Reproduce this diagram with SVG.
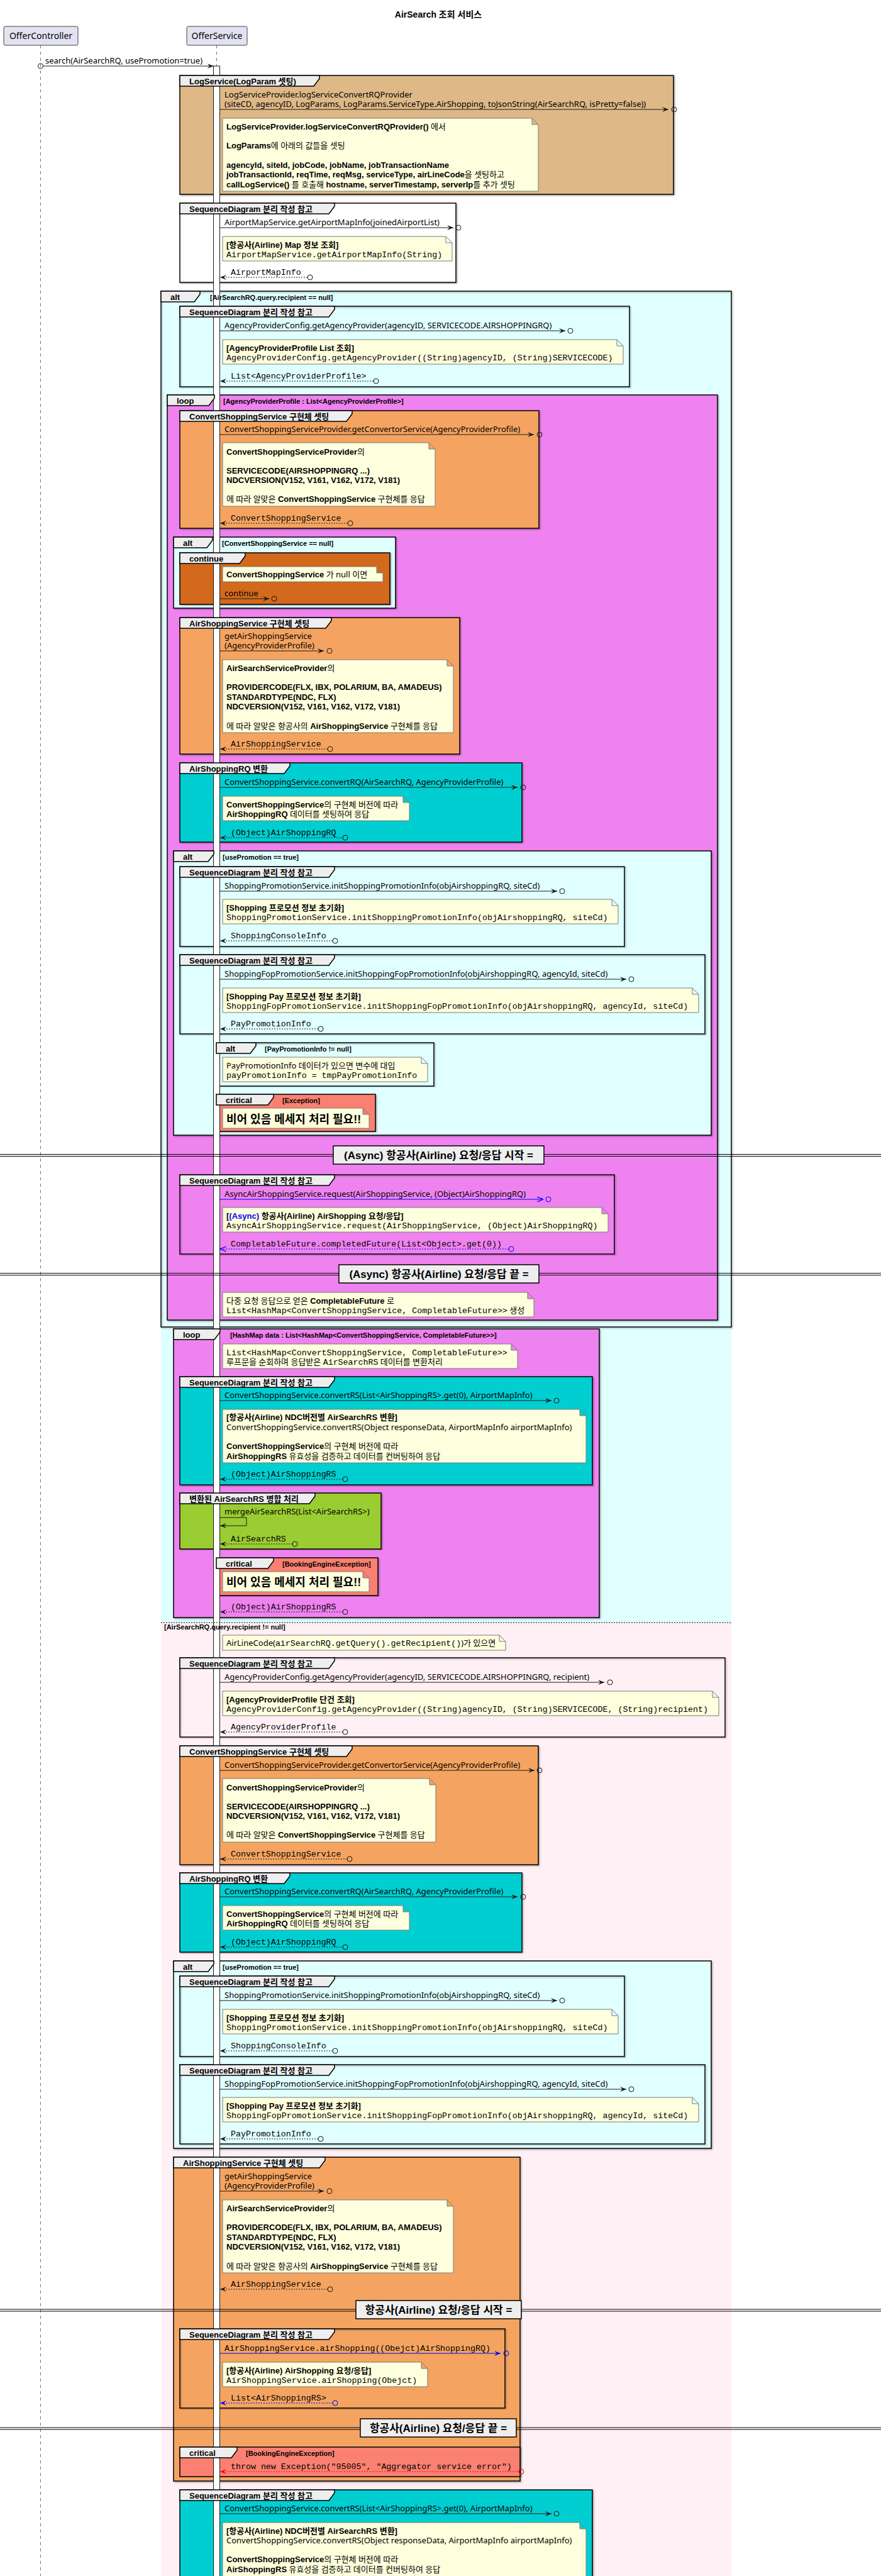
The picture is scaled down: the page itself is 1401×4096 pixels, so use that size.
<svg xmlns="http://www.w3.org/2000/svg" width="1401" height="4096" viewBox="0 0 1401 4096">
<style>
text{font-family:"Noto Sans","Noto Sans CJK KR",sans-serif;font-size:13px;fill:#000}
.b{font-family:"Liberation Sans","Noto Sans CJK KR",sans-serif;font-weight:bold}
.m{font-family:"Liberation Mono","Noto Sans CJK KR",monospace;font-size:13.3px}
.lbl{font-family:"Liberation Sans","Noto Sans CJK KR",sans-serif;font-weight:bold;font-size:13px}
.cond{font-family:"Liberation Sans","Noto Sans CJK KR",sans-serif;font-weight:bold;font-size:11px}
.big{font-family:"Liberation Sans","Noto Sans CJK KR",sans-serif;font-weight:bold;font-size:18px}
.dv{font-family:"Liberation Sans","Noto Sans CJK KR",sans-serif;font-weight:bold;font-size:17px;text-anchor:middle}
.ttl{font-family:"Liberation Sans","Noto Sans CJK KR",sans-serif;font-weight:bold;font-size:14px;text-anchor:middle}
.pt{font-size:14px;text-anchor:middle}
.fr{stroke:#000;stroke-width:1.5;filter:url(#sh)}
.tab{fill:#EEEEEE;stroke:#000;stroke-width:1.5}
.note{fill:#FEFFDD;stroke:#7A7A7A;stroke-width:1}
.msg{stroke:#181818;stroke-width:1;fill:none}
.ret{stroke:#181818;stroke-width:1;stroke-dasharray:2,2;fill:none}
.c{fill:none;stroke:#181818;stroke-width:1}
.blue{stroke:#0000FF}
.red{stroke:#FF0000}
.dl{stroke:#000;stroke-width:1}
.dbox{fill:#EEEEEE;stroke:#000;stroke-width:1.5}
.part{fill:#E2E2F0;stroke:#181818;stroke-width:0.8}
.life{stroke:#181818;stroke-width:0.6;stroke-dasharray:5,5}
</style>
<defs>
<filter id="sh" x="-2%" y="-2%" width="104%" height="104%"><feDropShadow dx="1.5" dy="1.5" stdDeviation="0.8" flood-color="#000" flood-opacity="0.35"/></filter>
<marker id="a" viewBox="0 0 10 8" refX="10" refY="4" markerWidth="10" markerHeight="8" markerUnits="userSpaceOnUse" orient="auto"><path d="M0,0 L10,4 L0,8 L4,4 Z" fill="#181818"/></marker>
<marker id="ab" viewBox="0 0 10 8" refX="10" refY="4" markerWidth="10" markerHeight="8" markerUnits="userSpaceOnUse" orient="auto"><path d="M0,0 L10,4 L0,8" fill="none" stroke="#0000FF" stroke-width="1.2"/></marker>
<marker id="abf" viewBox="0 0 10 8" refX="10" refY="4" markerWidth="10" markerHeight="8" markerUnits="userSpaceOnUse" orient="auto"><path d="M0,0 L10,4 L0,8 L4,4 Z" fill="#0000FF"/></marker>
<marker id="ar" viewBox="0 0 10 8" refX="10" refY="4" markerWidth="10" markerHeight="8" markerUnits="userSpaceOnUse" orient="auto"><path d="M0,0 L10,4 L0,8 L4,4 Z" fill="#FF0000"/></marker>
</defs>
<rect x="0" y="0" width="1401" height="4096" fill="#FFFFFF"/>
<text class="ttl" x="697" y="28">AirSearch 조회 서비스</text>
<g id="lifelines">
<line class="life" x1="64.5" y1="72" x2="64.5" y2="4096"/>
<line class="life" x1="344.5" y1="72" x2="344.5" y2="105"/>
</g>
<g id="OfferController"><rect class="part" x="6" y="42" width="118" height="30" rx="2.5"/><text class="pt" x="65" y="62">OfferController</text></g>
<g id="OfferService"><rect class="part" x="297" y="42" width="96" height="30" rx="2.5"/><text class="pt" x="345" y="62">OfferService</text></g>
<g id="frames">
<g id="f-log"><rect class="fr" x="286" y="120" width="785" height="189" fill="#DEB887"/></g>
<g id="f-sd1"><rect class="fr" x="286" y="323" width="439" height="126" fill="#FFFFFF"/></g>
<g id="f-alt"><rect x="256" y="463" width="907" height="2117" fill="#E0FFFF"/><rect x="256" y="2580" width="907" height="1530" fill="#FFF0F5"/><rect class="fr" x="256" y="463" width="907" height="1647" fill="none"/></g>
<g id="f-sd2"><rect class="fr" x="286" y="487" width="715" height="128" fill="none"/></g>
<g id="f-loop1"><rect class="fr" x="266" y="628" width="875" height="1471" fill="#EE82EE"/></g>
<g id="f-css1"><rect class="fr" x="286" y="653" width="571" height="187" fill="#F4A460"/></g>
<g id="f-alt2"><rect class="fr" x="276" y="854" width="353" height="113" fill="#E0FFFF"/></g>
<g id="f-cont"><rect class="fr" x="286" y="879" width="334" height="82" fill="#D2691E"/></g>
<g id="f-ass1"><rect class="fr" x="286" y="982" width="445" height="217" fill="#F4A460"/></g>
<g id="f-rq1"><rect class="fr" x="286" y="1213" width="544" height="126" fill="#00CED1"/></g>
<g id="f-alt3"><rect class="fr" x="276" y="1353" width="855" height="452" fill="#E0FFFF"/></g>
<g id="f-sd3"><rect class="fr" x="286" y="1378" width="707" height="127" fill="none"/></g>
<g id="f-sd4"><rect class="fr" x="286" y="1518" width="835" height="126" fill="none"/></g>
<g id="f-alt4"><rect class="fr" x="344" y="1658" width="346" height="69" fill="none"/></g>
<g id="f-crit1"><rect class="fr" x="344" y="1740" width="253" height="59" fill="#FA8072"/></g>
<g id="f-sd5"><rect class="fr" x="286" y="1868" width="691" height="126" fill="none"/></g>
<g id="f-loop2"><rect class="fr" x="276" y="2113" width="677" height="459" fill="#EE82EE"/></g>
<g id="f-sd6"><rect class="fr" x="286" y="2189" width="656" height="172" fill="#00CED1"/></g>
<g id="f-merge"><rect class="fr" x="286" y="2374" width="320" height="89" fill="#9ACD32"/></g>
<g id="f-crit2"><rect class="fr" x="344" y="2477" width="257" height="60" fill="#FA8072"/></g>
<g id="f-sd7"><rect class="fr" x="286" y="2636" width="867" height="126" fill="none"/></g>
<g id="f-css2"><rect class="fr" x="286" y="2776" width="570" height="189" fill="#F4A460"/></g>
<g id="f-rq2"><rect class="fr" x="286" y="2978" width="544" height="126" fill="#00CED1"/></g>
<g id="f-alt5"><rect class="fr" x="276" y="3118" width="855" height="298" fill="#E0FFFF"/></g>
<g id="f-sd8"><rect class="fr" x="286" y="3142" width="707" height="128" fill="none"/></g>
<g id="f-sd9"><rect class="fr" x="286" y="3283" width="835" height="126" fill="none"/></g>
<g id="f-ass2"><rect class="fr" x="276" y="3430" width="551" height="515" fill="#F4A460"/></g>
<g id="f-sd10"><rect class="fr" x="286" y="3703" width="517" height="126" fill="none"/></g>
<g id="f-crit3"><rect class="fr" x="286" y="3891" width="541" height="47" fill="#FA8072"/></g>
<g id="f-sd11"><rect class="fr" x="286" y="3959" width="656" height="151" fill="#00CED1"/></g>
</g>
<g id="activation"><rect x="339.5" y="105" width="10" height="4000" fill="#FFFFFF" stroke="#181818" stroke-width="1"/></g>
<g id="frame-labels">
<g id="f-log-tab"><path class="tab" d="M286,120 H508 V125 L499,137 H286 Z"/><text class="lbl" x="301" y="133.5">LogService(LogParam 셋팅)</text></g>
<g id="f-sd1-tab"><path class="tab" d="M286,323 H532 V328 L523,340 H286 Z"/><text class="lbl" x="301" y="336.5">SequenceDiagram 분리 작성 참고</text></g>
<g id="f-alt-tab"><path class="tab" d="M256,463 H318 V468 L309,480 H256 Z"/><text class="lbl" x="271" y="476.5">alt</text><text class="cond" x="334" y="477">[AirSearchRQ.query.recipient == null]</text><line x1="256" y1="2580" x2="1163" y2="2580" stroke="#000" stroke-width="1" stroke-dasharray="2,2"/><text class="cond" x="261" y="2591">[AirSearchRQ.query.recipient != null]</text></g>
<g id="f-sd2-tab"><path class="tab" d="M286,487 H532 V492 L523,504 H286 Z"/><text class="lbl" x="301" y="500.5">SequenceDiagram 분리 작성 참고</text></g>
<g id="f-loop1-tab"><path class="tab" d="M266,628 H341 V633 L332,645 H266 Z"/><text class="lbl" x="281" y="641.5">loop</text><text class="cond" x="355" y="642">[AgencyProviderProfile : List&lt;AgencyProviderProfile&gt;]</text></g>
<g id="f-css1-tab"><path class="tab" d="M286,653 H560 V658 L551,670 H286 Z"/><text class="lbl" x="301" y="666.5">ConvertShoppingService 구현체 셋팅</text></g>
<g id="f-alt2-tab"><path class="tab" d="M276,854 H338 V859 L329,871 H276 Z"/><text class="lbl" x="291" y="867.5">alt</text><text class="cond" x="353" y="868">[ConvertShoppingService == null]</text></g>
<g id="f-cont-tab"><path class="tab" d="M286,879 H390 V884 L381,896 H286 Z"/><text class="lbl" x="301" y="892.5">continue</text></g>
<g id="f-ass1-tab"><path class="tab" d="M286,982 H527 V987 L518,999 H286 Z"/><text class="lbl" x="301" y="995.5">AirShoppingService 구현체 셋팅</text></g>
<g id="f-rq1-tab"><path class="tab" d="M286,1213 H461 V1218 L452,1230 H286 Z"/><text class="lbl" x="301" y="1226.5">AirShoppingRQ 변환</text></g>
<g id="f-alt3-tab"><path class="tab" d="M276,1353 H340 V1358 L331,1370 H276 Z"/><text class="lbl" x="291" y="1366.5">alt</text><text class="cond" x="354" y="1367">[usePromotion == true]</text></g>
<g id="f-sd3-tab"><path class="tab" d="M286,1378 H532 V1383 L523,1395 H286 Z"/><text class="lbl" x="301" y="1391.5">SequenceDiagram 분리 작성 참고</text></g>
<g id="f-sd4-tab"><path class="tab" d="M286,1518 H532 V1523 L523,1535 H286 Z"/><text class="lbl" x="301" y="1531.5">SequenceDiagram 분리 작성 참고</text></g>
<g id="f-alt4-tab"><path class="tab" d="M344,1658 H407 V1663 L398,1675 H344 Z"/><text class="lbl" x="359" y="1671.5">alt</text><text class="cond" x="421" y="1672">[PayPromotionInfo != null]</text></g>
<g id="f-crit1-tab"><path class="tab" d="M344,1740 H435 V1745 L426,1757 H344 Z"/><text class="lbl" x="359" y="1753.5">critical</text><text class="cond" x="449" y="1754">[Exception]</text></g>
<g id="f-sd5-tab"><path class="tab" d="M286,1868 H532 V1873 L523,1885 H286 Z"/><text class="lbl" x="301" y="1881.5">SequenceDiagram 분리 작성 참고</text></g>
<g id="f-loop2-tab"><path class="tab" d="M276,2113 H350 V2118 L341,2130 H276 Z"/><text class="lbl" x="291" y="2126.5">loop</text><text class="cond" x="366" y="2127">[HashMap data : List&lt;HashMap&lt;ConvertShoppingService, CompletableFuture&gt;&gt;]</text></g>
<g id="f-sd6-tab"><path class="tab" d="M286,2189 H532 V2194 L523,2206 H286 Z"/><text class="lbl" x="301" y="2202.5">SequenceDiagram 분리 작성 참고</text></g>
<g id="f-merge-tab"><path class="tab" d="M286,2374 H501 V2379 L492,2391 H286 Z"/><text class="lbl" x="301" y="2387.5">변환된 AirSearchRS 병합 처리</text></g>
<g id="f-crit2-tab"><path class="tab" d="M344,2477 H435 V2482 L426,2494 H344 Z"/><text class="lbl" x="359" y="2490.5">critical</text><text class="cond" x="449" y="2491">[BookingEngineException]</text></g>
<g id="f-sd7-tab"><path class="tab" d="M286,2636 H532 V2641 L523,2653 H286 Z"/><text class="lbl" x="301" y="2649.5">SequenceDiagram 분리 작성 참고</text></g>
<g id="f-css2-tab"><path class="tab" d="M286,2776 H560 V2781 L551,2793 H286 Z"/><text class="lbl" x="301" y="2789.5">ConvertShoppingService 구현체 셋팅</text></g>
<g id="f-rq2-tab"><path class="tab" d="M286,2978 H461 V2983 L452,2995 H286 Z"/><text class="lbl" x="301" y="2991.5">AirShoppingRQ 변환</text></g>
<g id="f-alt5-tab"><path class="tab" d="M276,3118 H340 V3123 L331,3135 H276 Z"/><text class="lbl" x="291" y="3131.5">alt</text><text class="cond" x="354" y="3132">[usePromotion == true]</text></g>
<g id="f-sd8-tab"><path class="tab" d="M286,3142 H532 V3147 L523,3159 H286 Z"/><text class="lbl" x="301" y="3155.5">SequenceDiagram 분리 작성 참고</text></g>
<g id="f-sd9-tab"><path class="tab" d="M286,3283 H532 V3288 L523,3300 H286 Z"/><text class="lbl" x="301" y="3296.5">SequenceDiagram 분리 작성 참고</text></g>
<g id="f-ass2-tab"><path class="tab" d="M276,3430 H517 V3435 L508,3447 H276 Z"/><text class="lbl" x="291" y="3443.5">AirShoppingService 구현체 셋팅</text></g>
<g id="f-sd10-tab"><path class="tab" d="M286,3703 H532 V3708 L523,3720 H286 Z"/><text class="lbl" x="301" y="3716.5">SequenceDiagram 분리 작성 참고</text></g>
<g id="f-crit3-tab"><path class="tab" d="M286,3891 H377 V3896 L368,3908 H286 Z"/><text class="lbl" x="301" y="3904.5">critical</text><text class="cond" x="391" y="3905">[BookingEngineException]</text></g>
<g id="f-sd11-tab"><path class="tab" d="M286,3959 H532 V3964 L523,3976 H286 Z"/><text class="lbl" x="301" y="3972.5">SequenceDiagram 분리 작성 참고</text></g>
</g>
<g id="dividers">
<g id="div1"><line class="dl" x1="0" y1="1835.5" x2="1401" y2="1835.5"/><line class="dl" x1="0" y1="1838.5" x2="1401" y2="1838.5"/><rect class="dbox" x="530" y="1822" width="335" height="29"/><text class="dv" x="697.5" y="1843">(Async) 항공사(Airline) 요청/응답 시작 =</text></g>
<g id="div2"><line class="dl" x1="0" y1="2024.5" x2="1401" y2="2024.5"/><line class="dl" x1="0" y1="2027.5" x2="1401" y2="2027.5"/><rect class="dbox" x="539" y="2011" width="318" height="29"/><text class="dv" x="698" y="2032">(Async) 항공사(Airline) 요청/응답 끝 =</text></g>
<g id="div3"><line class="dl" x1="0" y1="3672" x2="1401" y2="3672"/><line class="dl" x1="0" y1="3675" x2="1401" y2="3675"/><rect class="dbox" x="566" y="3658" width="263" height="29"/><text class="dv" x="697.5" y="3679">항공사(Airline) 요청/응답 시작 =</text></g>
<g id="div4"><line class="dl" x1="0" y1="3860" x2="1401" y2="3860"/><line class="dl" x1="0" y1="3863" x2="1401" y2="3863"/><rect class="dbox" x="573" y="3846" width="248" height="29"/><text class="dv" x="697" y="3867">항공사(Airline) 요청/응답 끝 =</text></g>
</g>
<g id="notes">
<g id="n1"><path class="note" d="M354,188 H846 L856,198 V304 H354 Z M846,188 V198 H856"/>
<text x="360" y="206"><tspan class="b">LogServiceProvider.logServiceConvertRQProvider()</tspan> 에서</text>
<text x="360" y="236"><tspan class="b">LogParams</tspan>에 아래의 값들을 셋팅</text>
<text class="b" x="360" y="267">agencyId, siteId, jobCode, jobName, jobTransactionName</text>
<text x="360" y="282"><tspan class="b">jobTransactionId, reqTime, reqMsg, serviceType, airLineCode</tspan>을 셋팅하고</text>
<text x="360" y="298"><tspan class="b">callLogService()</tspan> 를 호출해 <tspan class="b">hostname, serverTimestamp, serverIp</tspan>를 추가 셋팅</text></g>
<g id="n2"><path class="note" d="M354,376 H709 L719,386 V415 H354 Z M709,376 V386 H719"/>
<text class="b" x="360" y="394">[항공사(Airline) Map 정보 조회]</text>
<text class="m" x="360" y="409">AirportMapService.getAirportMapInfo(String)</text></g>
<g id="n3"><path class="note" d="M354,540 H981 L991,550 V579 H354 Z M981,540 V550 H991"/>
<text class="b" x="360" y="558">[AgencyProviderProfile List 조회]</text>
<text class="m" x="360" y="573">AgencyProviderConfig.getAgencyProvider((String)agencyID, (String)SERVICECODE)</text></g>
<g id="n4"><path class="note" d="M354,704 H682 L692,714 V805 H354 Z M682,704 V714 H692"/>
<text x="360" y="723"><tspan class="b">ConvertShoppingServiceProvider</tspan>의</text>
<text class="b" x="360" y="753">SERVICECODE(AIRSHOPPINGRQ ...)</text>
<text class="b" x="360" y="768">NDCVERSION(V152, V161, V162, V172, V181)</text>
<text x="360" y="798">에 따라 알맞은 <tspan class="b">ConvertShoppingService</tspan> 구현체를 응답</text></g>
<g id="n5"><path class="note" d="M354,901 H599 L609,911 V925 H354 Z M599,901 V911 H609"/>
<text x="360" y="918"><tspan class="b">ConvertShoppingService</tspan> 가 null 이면</text></g>
<g id="n6"><path class="note" d="M354,1049 H711 L721,1059 V1165 H354 Z M711,1049 V1059 H721"/>
<text x="360" y="1067"><tspan class="b">AirSearchServiceProvider</tspan>의</text>
<text class="b" x="360" y="1097">PROVIDERCODE(FLX, IBX, POLARIUM, BA, AMADEUS)</text>
<text class="b" x="360" y="1113">STANDARDTYPE(NDC, FLX)</text>
<text class="b" x="360" y="1128">NDCVERSION(V152, V161, V162, V172, V181)</text>
<text x="360" y="1159">에 따라 알맞은 항공사의 <tspan class="b">AirShoppingService</tspan> 구현체를 응답</text></g>
<g id="n7"><path class="note" d="M354,1266 H641 L651,1276 V1305 H354 Z M641,1266 V1276 H651"/>
<text x="360" y="1284"><tspan class="b">ConvertShoppingService</tspan>의 구현체 버전에 따라</text>
<text x="360" y="1299"><tspan class="b">AirShoppingRQ</tspan> 데이터를 셋팅하여 응답</text></g>
<g id="n8"><path class="note" d="M354,1430 H973 L983,1440 V1469 H354 Z M973,1430 V1440 H983"/>
<text class="b" x="360" y="1448">[Shopping 프로모션 정보 초기화]</text>
<text class="m" x="360" y="1463">ShoppingPromotionService.initShoppingPromotionInfo(objAirshoppingRQ, siteCd)</text></g>
<g id="n9"><path class="note" d="M354,1571 H1101 L1111,1581 V1610 H354 Z M1101,1571 V1581 H1111"/>
<text class="b" x="360" y="1589">[Shopping Pay 프로모션 정보 초기화]</text>
<text class="m" x="360" y="1604">ShoppingFopPromotionService.initShoppingFopPromotionInfo(objAirshoppingRQ, agencyId, siteCd)</text></g>
<g id="n10"><path class="note" d="M354,1681 H670 L680,1691 V1720 H354 Z M670,1681 V1691 H680"/>
<text x="360" y="1699">PayPromotionInfo 데이터가 있으면 변수에 대입</text>
<text class="m" x="360" y="1714">payPromotionInfo = tmpPayPromotionInfo</text></g>
<g id="n11"><path class="note" d="M354,1762 H577 L587,1772 V1794 H354 Z M577,1762 V1772 H587"/>
<text class="big" x="360" y="1786">비어 있음 메세지 처리 필요!!</text></g>
<g id="n12"><path class="note" d="M354,1920 H957 L967,1930 V1959 H354 Z M957,1920 V1930 H967"/>
<text class="b" x="360" y="1938">[<tspan fill="#0000FF">(Async)</tspan> 항공사(Airline) AirShopping 요청/응답]</text>
<text class="m" x="360" y="1953">AsyncAirShoppingService.request(AirShoppingService, (Object)AirShoppingRQ)</text></g>
<g id="n13"><path class="note" d="M354,2055 H839 L849,2065 V2094 H354 Z M839,2055 V2065 H849"/>
<text x="360" y="2073">다중 요청 응답으로 얻은 <tspan class="b">CompletableFuture</tspan> 로</text>
<text x="360" y="2088"><tspan class="m">List&lt;HashMap&lt;ConvertShoppingService, CompletableFuture&gt;&gt;</tspan> 생성</text></g>
<g id="n14"><path class="note" d="M354,2137 H813 L823,2147 V2176 H354 Z M813,2137 V2147 H823"/>
<text class="m" x="360" y="2155">List&lt;HashMap&lt;ConvertShoppingService, CompletableFuture&gt;&gt;</text>
<text x="360" y="2170">루프문을 순회하며 응답받은 <tspan class="m">AirSearchRS</tspan> 데이터를 변환처리</text></g>
<g id="n15"><path class="note" d="M354,2241 H922 L932,2251 V2326 H354 Z M922,2241 V2251 H932"/>
<text class="b" x="360" y="2258">[항공사(Airline) NDC버전별 AirSearchRS 변환]</text>
<text x="360" y="2274">ConvertShoppingService.convertRS(Object responseData, AirportMapInfo airportMapInfo)</text>
<text x="360" y="2304"><tspan class="b">ConvertShoppingService</tspan>의 구현체 버전에 따라</text>
<text x="360" y="2320"><tspan class="b">AirShoppingRS</tspan> 유효성을 검증하고 데이터를 컨버팅하여 응답</text></g>
<g id="n16"><path class="note" d="M354,2499 H577 L587,2509 V2531 H354 Z M577,2499 V2509 H587"/>
<text class="big" x="360" y="2522">비어 있음 메세지 처리 필요!!</text></g>
<g id="n17"><path class="note" d="M354,2600 H794 L804,2610 V2624 H354 Z M794,2600 V2610 H804"/>
<text x="360" y="2617">AirLineCode(<tspan class="m">airSearchRQ.getQuery().getRecipient()</tspan>)가 있으면</text></g>
<g id="n18"><path class="note" d="M354,2689 H1133 L1143,2699 V2728 H354 Z M1133,2689 V2699 H1143"/>
<text class="b" x="360" y="2707">[AgencyProviderProfile 단건 조회]</text>
<text class="m" x="360" y="2722">AgencyProviderConfig.getAgencyProvider((String)agencyID, (String)SERVICECODE, (String)recipient)</text></g>
<g id="n19"><path class="note" d="M354,2828 H683 L693,2838 V2929 H354 Z M683,2828 V2838 H693"/>
<text x="360" y="2847"><tspan class="b">ConvertShoppingServiceProvider</tspan>의</text>
<text class="b" x="360" y="2877">SERVICECODE(AIRSHOPPINGRQ ...)</text>
<text class="b" x="360" y="2892">NDCVERSION(V152, V161, V162, V172, V181)</text>
<text x="360" y="2922">에 따라 알맞은 <tspan class="b">ConvertShoppingService</tspan> 구현체를 응답</text></g>
<g id="n20"><path class="note" d="M354,3030 H641 L651,3040 V3069 H354 Z M641,3030 V3040 H651"/>
<text x="360" y="3048"><tspan class="b">ConvertShoppingService</tspan>의 구현체 버전에 따라</text>
<text x="360" y="3063"><tspan class="b">AirShoppingRQ</tspan> 데이터를 셋팅하여 응답</text></g>
<g id="n21"><path class="note" d="M354,3195 H973 L983,3205 V3234 H354 Z M973,3195 V3205 H983"/>
<text class="b" x="360" y="3213">[Shopping 프로모션 정보 초기화]</text>
<text class="m" x="360" y="3228">ShoppingPromotionService.initShoppingPromotionInfo(objAirshoppingRQ, siteCd)</text></g>
<g id="n22"><path class="note" d="M354,3335 H1101 L1111,3345 V3374 H354 Z M1101,3335 V3345 H1111"/>
<text class="b" x="360" y="3353">[Shopping Pay 프로모션 정보 초기화]</text>
<text class="m" x="360" y="3368">ShoppingFopPromotionService.initShoppingFopPromotionInfo(objAirshoppingRQ, agencyId, siteCd)</text></g>
<g id="n23"><path class="note" d="M354,3498 H711 L721,3508 V3614 H354 Z M711,3498 V3508 H721"/>
<text x="360" y="3516"><tspan class="b">AirSearchServiceProvider</tspan>의</text>
<text class="b" x="360" y="3546">PROVIDERCODE(FLX, IBX, POLARIUM, BA, AMADEUS)</text>
<text class="b" x="360" y="3562">STANDARDTYPE(NDC, FLX)</text>
<text class="b" x="360" y="3577">NDCVERSION(V152, V161, V162, V172, V181)</text>
<text x="360" y="3608">에 따라 알맞은 항공사의 <tspan class="b">AirShoppingService</tspan> 구현체를 응답</text></g>
<g id="n24"><path class="note" d="M354,3756 H670 L680,3766 V3795 H354 Z M670,3756 V3766 H680"/>
<text class="b" x="360" y="3774">[항공사(Airline) AirShopping 요청/응답]</text>
<text class="m" x="360" y="3789">AirShoppingService.airShopping(Obejct)</text></g>
<g id="n25"><path class="note" d="M354,4011 H922 L932,4021 V4100 H354 Z M922,4011 V4021 H932"/>
<text class="b" x="360" y="4029">[항공사(Airline) NDC버전별 AirSearchRS 변환]</text>
<text x="360" y="4044">ConvertShoppingService.convertRS(Object responseData, AirportMapInfo airportMapInfo)</text>
<text x="360" y="4074"><tspan class="b">ConvertShoppingService</tspan>의 구현체 버전에 따라</text>
<text x="360" y="4090"><tspan class="b">AirShoppingRS</tspan> 유효성을 검증하고 데이터를 컨버팅하여 응답</text></g>
</g>
<g id="connectors">
<text x="72" y="101">search(AirSearchRQ, usePromotion=true)</text><circle class="c" cx="64.5" cy="105" r="4"/><line class="msg" x1="68.5" y1="105" x2="339.5" y2="105" marker-end="url(#a)"/>
<text x="357" y="155">LogServiceProvider.logServiceConvertRQProvider</text><text x="357" y="170">(siteCD, agencyID, LogParams, LogParams.ServiceType.AirShopping, toJsonString(AirSearchRQ, isPretty=false))</text><line class="msg" x1="349.5" y1="174" x2="1063" y2="174" marker-end="url(#a)"/><circle class="c" cx="1072" cy="174" r="4"/>
<text x="357" y="358">AirportMapService.getAirportMapInfo(joinedAirportList)</text><line class="msg" x1="349.5" y1="362" x2="721" y2="362" marker-end="url(#a)"/><circle class="c" cx="729" cy="362" r="4"/>
<text class="m" x="367" y="437">AirportMapInfo</text><circle class="c" cx="493" cy="441" r="4"/><line class="ret" x1="489" y1="441" x2="350" y2="441" marker-end="url(#a)"/>
<text x="357" y="522">AgencyProviderConfig.getAgencyProvider(agencyID, SERVICECODE.AIRSHOPPINGRQ)</text><line class="msg" x1="349.5" y1="526" x2="899" y2="526" marker-end="url(#a)"/><circle class="c" cx="907" cy="526" r="4"/>
<text class="m" x="367" y="602">List&lt;AgencyProviderProfile&gt;</text><circle class="c" cx="598" cy="606" r="4"/><line class="ret" x1="594" y1="606" x2="350" y2="606" marker-end="url(#a)"/>
<text x="357" y="687">ConvertShoppingServiceProvider.getConvertorService(AgencyProviderProfile)</text><line class="msg" x1="349.5" y1="691" x2="849" y2="691" marker-end="url(#a)"/><circle class="c" cx="858" cy="691" r="4"/>
<text class="m" x="367" y="828">ConvertShoppingService</text><circle class="c" cx="557" cy="832" r="4"/><line class="ret" x1="553" y1="832" x2="350" y2="832" marker-end="url(#a)"/>
<text x="357" y="948">continue</text><line class="msg" x1="349.5" y1="952" x2="428" y2="952" marker-end="url(#a)"/><circle class="c" cx="436" cy="952" r="4"/>
<text x="357" y="1016">getAirShoppingService</text><text x="357" y="1031">(AgencyProviderProfile)</text><line class="msg" x1="349.5" y1="1035" x2="515" y2="1035" marker-end="url(#a)"/><circle class="c" cx="524" cy="1035" r="4"/>
<text class="m" x="367" y="1187">AirShoppingService</text><circle class="c" cx="525" cy="1191" r="4"/><line class="ret" x1="521" y1="1191" x2="350" y2="1191" marker-end="url(#a)"/>
<text x="357" y="1248">ConvertShoppingService.convertRQ(AirSearchRQ, AgencyProviderProfile)</text><line class="msg" x1="349.5" y1="1252" x2="823" y2="1252" marker-end="url(#a)"/><circle class="c" cx="832" cy="1252" r="4"/>
<text class="m" x="367" y="1328">(Object)AirShoppingRQ</text><circle class="c" cx="549" cy="1332" r="4"/><line class="ret" x1="545" y1="1332" x2="350" y2="1332" marker-end="url(#a)"/>
<text x="357" y="1413">ShoppingPromotionService.initShoppingPromotionInfo(objAirshoppingRQ, siteCd)</text><line class="msg" x1="349.5" y1="1417" x2="886" y2="1417" marker-end="url(#a)"/><circle class="c" cx="894" cy="1417" r="4"/>
<text class="m" x="367" y="1492">ShoppingConsoleInfo</text><circle class="c" cx="533" cy="1496" r="4"/><line class="ret" x1="529" y1="1496" x2="350" y2="1496" marker-end="url(#a)"/>
<text x="357" y="1553">ShoppingFopPromotionService.initShoppingFopPromotionInfo(objAirshoppingRQ, agencyId, siteCd)</text><line class="msg" x1="349.5" y1="1557" x2="996" y2="1557" marker-end="url(#a)"/><circle class="c" cx="1004" cy="1557" r="4"/>
<text class="m" x="367" y="1632">PayPromotionInfo</text><circle class="c" cx="510" cy="1636" r="4"/><line class="ret" x1="506" y1="1636" x2="350" y2="1636" marker-end="url(#a)"/>
<text x="357" y="1903">AsyncAirShoppingService.request(AirShoppingService, (Object)AirShoppingRQ)</text><line class="msg blue" x1="349.5" y1="1907" x2="864" y2="1907" marker-end="url(#ab)"/><circle class="c blue" cx="872" cy="1907" r="4"/>
<text class="m" x="367" y="1982">CompletableFuture.completedFuture(List&lt;Object&gt;.get(0))</text><circle class="c blue" cx="813" cy="1986" r="4"/><line class="ret blue" x1="809" y1="1986" x2="350" y2="1986" marker-end="url(#ab)"/>
<text x="357" y="2223">ConvertShoppingService.convertRS(List&lt;AirShoppingRS&gt;.get(0), AirportMapInfo)</text><line class="msg" x1="349.5" y1="2227" x2="877" y2="2227" marker-end="url(#a)"/><circle class="c" cx="885" cy="2227" r="4"/>
<text class="m" x="367" y="2348">(Object)AirShoppingRS</text><circle class="c" cx="549" cy="2352" r="4"/><line class="ret" x1="545" y1="2352" x2="350" y2="2352" marker-end="url(#a)"/>
<text x="357" y="2408">mergeAirSearchRS(List&lt;AirSearchRS&gt;)</text><path class="msg" d="M349.5,2413 H392 V2426 H350" marker-end="url(#a)"/>
<text class="m" x="367" y="2451">AirSearchRS</text><circle class="c" cx="469" cy="2455" r="4"/><line class="ret" x1="465" y1="2455" x2="350" y2="2455" marker-end="url(#a)"/>
<text class="m" x="367" y="2559">(Object)AirShoppingRS</text><circle class="c" cx="549" cy="2563" r="4"/><line class="ret" x1="545" y1="2563" x2="350" y2="2563" marker-end="url(#a)"/>
<text x="357" y="2671">AgencyProviderConfig.getAgencyProvider(agencyID, SERVICECODE.AIRSHOPPINGRQ, recipient)</text><line class="msg" x1="349.5" y1="2675" x2="961" y2="2675" marker-end="url(#a)"/><circle class="c" cx="970" cy="2675" r="4"/>
<text class="m" x="367" y="2750">AgencyProviderProfile</text><circle class="c" cx="549" cy="2754" r="4"/><line class="ret" x1="545" y1="2754" x2="350" y2="2754" marker-end="url(#a)"/>
<text x="357" y="2811">ConvertShoppingServiceProvider.getConvertorService(AgencyProviderProfile)</text><line class="msg" x1="349.5" y1="2815" x2="850" y2="2815" marker-end="url(#a)"/><circle class="c" cx="858" cy="2815" r="4"/>
<text class="m" x="367" y="2952">ConvertShoppingService</text><circle class="c" cx="556" cy="2956" r="4"/><line class="ret" x1="552" y1="2956" x2="350" y2="2956" marker-end="url(#a)"/>
<text x="357" y="3012">ConvertShoppingService.convertRQ(AirSearchRQ, AgencyProviderProfile)</text><line class="msg" x1="349.5" y1="3016" x2="823" y2="3016" marker-end="url(#a)"/><circle class="c" cx="832" cy="3016" r="4"/>
<text class="m" x="367" y="3092">(Object)AirShoppingRQ</text><circle class="c" cx="549" cy="3096" r="4"/><line class="ret" x1="545" y1="3096" x2="350" y2="3096" marker-end="url(#a)"/>
<text x="357" y="3177">ShoppingPromotionService.initShoppingPromotionInfo(objAirshoppingRQ, siteCd)</text><line class="msg" x1="349.5" y1="3181" x2="886" y2="3181" marker-end="url(#a)"/><circle class="c" cx="894" cy="3181" r="4"/>
<text class="m" x="367" y="3257">ShoppingConsoleInfo</text><circle class="c" cx="533" cy="3261" r="4"/><line class="ret" x1="529" y1="3261" x2="350" y2="3261" marker-end="url(#a)"/>
<text x="357" y="3318">ShoppingFopPromotionService.initShoppingFopPromotionInfo(objAirshoppingRQ, agencyId, siteCd)</text><line class="msg" x1="349.5" y1="3322" x2="996" y2="3322" marker-end="url(#a)"/><circle class="c" cx="1004" cy="3322" r="4"/>
<text class="m" x="367" y="3397">PayPromotionInfo</text><circle class="c" cx="510" cy="3401" r="4"/><line class="ret" x1="506" y1="3401" x2="350" y2="3401" marker-end="url(#a)"/>
<text x="357" y="3465">getAirShoppingService</text><text x="357" y="3480">(AgencyProviderProfile)</text><line class="msg" x1="349.5" y1="3484" x2="515" y2="3484" marker-end="url(#a)"/><circle class="c" cx="524" cy="3484" r="4"/>
<text class="m" x="367" y="3636">AirShoppingService</text><circle class="c" cx="525" cy="3640" r="4"/><line class="ret" x1="521" y1="3640" x2="350" y2="3640" marker-end="url(#a)"/>
<text class="m" x="357" y="3738">AirShoppingService.airShopping((Obejct)AirShoppingRQ)</text><line class="msg blue" x1="349.5" y1="3742" x2="796" y2="3742" marker-end="url(#abf)"/><circle class="c blue" cx="805" cy="3742" r="4"/>
<text class="m" x="367" y="3817">List&lt;AirShoppingRS&gt;</text><circle class="c blue" cx="533" cy="3821" r="4"/><line class="ret blue" x1="529" y1="3821" x2="350" y2="3821" marker-end="url(#abf)"/>
<text class="m" x="367" y="3926">throw new Exception("95005", "Aggregator service error")</text><circle class="c red" cx="829" cy="3930" r="4"/><line class="ret red" x1="825" y1="3930" x2="350" y2="3930" marker-end="url(#ar)"/>
<text x="357" y="3993">ConvertShoppingService.convertRS(List&lt;AirShoppingRS&gt;.get(0), AirportMapInfo)</text><line class="msg" x1="349.5" y1="3997" x2="877" y2="3997" marker-end="url(#a)"/><circle class="c" cx="885" cy="3997" r="4"/>
</g>
</svg>
